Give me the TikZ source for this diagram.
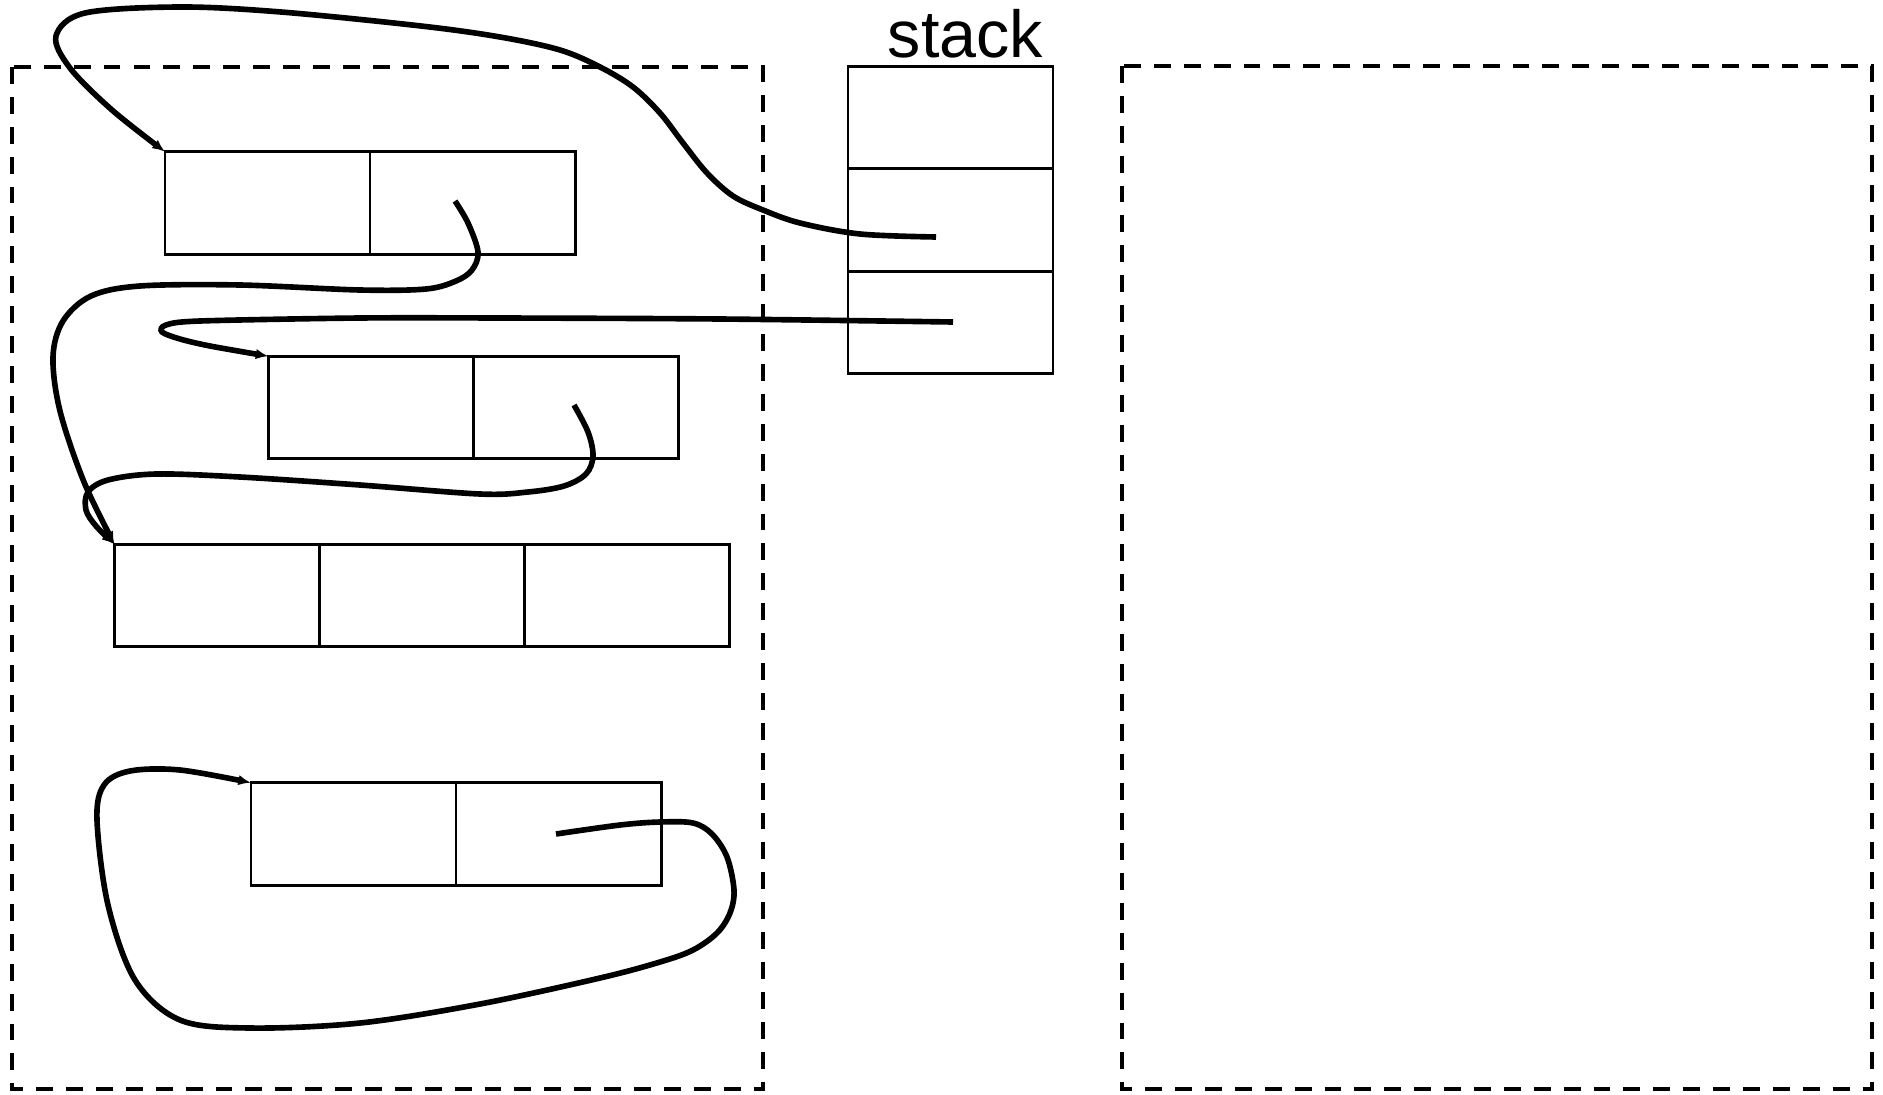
\documentclass[tikz,border=0pt]{standalone}
\usepackage{fontspec}
\setmainfont{Liberation Sans}
\usetikzlibrary{arrows.meta}
\begin{document}
\begin{tikzpicture}[x=0.01cm,y=-0.01cm,
  cell/.style={draw,line width=0.8pt,minimum width=2.05cm,minimum height=1.025cm,inner sep=0pt,outer sep=0pt},
  region/.style={draw,line width=1.25pt,dash pattern=on 4.8pt off 3.7pt},
  link/.style={line width=1.6pt,line cap=butt,-{Latex[length=3.6pt,width=3pt]}},
  ]
\useasboundingbox (0,0) rectangle (1883,1094);

% regions
\draw[region] (12,67) rectangle (763,1089);
\draw[region] (1122,66) rectangle (1872,1089);

% stack
\node[font=\fontsize{18.9}{20}\selectfont, anchor=base, inner sep=0pt] (stacklabel) at (965.5,58) {stack};
\node[cell] (s1) at (950.5,117.5) {};
\node[cell, anchor=north] (s2) at (s1.south) {};
\node[cell, anchor=north] (s3) at (s2.south) {};

% box A
\node[cell] (a1) at (267.5,203) {};
\node[cell, anchor=west] (a2) at (a1.east) {};
% box B
\node[cell] (b1) at (371,407.5) {};
\node[cell, anchor=west] (b2) at (b1.east) {};
% box C
\node[cell] (c1) at (217,595.5) {};
\node[cell, anchor=west] (c2) at (c1.east) {};
\node[cell, anchor=west] (c3) at (c2.east) {};
% box D
\node[cell] (d1) at (353.5,834) {};
\node[cell, anchor=west] (d2) at (d1.east) {};

% free ends
\coordinate (p1) at (936,237);
\coordinate (p2) at (455,201);
\coordinate (p3) at (953,322);
\coordinate (p4) at (574,405);
\coordinate (p5) at (556,834);

% links
\draw[link] plot[smooth,tension=0.55] coordinates {(p1) (860,234) (800,223) (763,210) (733,196) (707,173) (683,143) (660,113) (633,87) (600,67) (560,50) (500,37) (421,26) (281,12) (180,7) (85,13) (56,36) (70,68) (112,110) (a1.north west)};
\draw[link] plot[smooth,tension=0.55] coordinates {(p2) (468,223) (478,252) (472,270) (456,281) (426,289) (360,290) (240,285) (140,286) (91,296) (63,321) (53,357) (60,411) (84,482) (c1.north west)};
\draw[link] plot[smooth,tension=0.5] coordinates {(p3) (720,319) (500,318) (360,318) (200,321) (166,325) (162,332) (180,339) (210,346) (b1.north west)};
\draw[link] plot[smooth,tension=0.55] coordinates {(p4) (588,432) (593,456) (586,474) (564,486) (528,492) (480,494) (360,485) (240,477) (156,474) (108,480) (88,492) (86,510) (96,526) (c1.north west)};
\draw[link] plot[smooth,tension=0.55] coordinates {(p5) (620,825) (660,822) (693,823) (712,834) (727,857) (734,890) (730,913) (717,933) (693,950) (660,962) (600,978) (480,1004) (360,1023) (250,1028) (180,1020) (135,980) (108,905) (97,820) (104,785) (130,771) (180,770) (d1.north west)};
\end{tikzpicture}
\end{document}
